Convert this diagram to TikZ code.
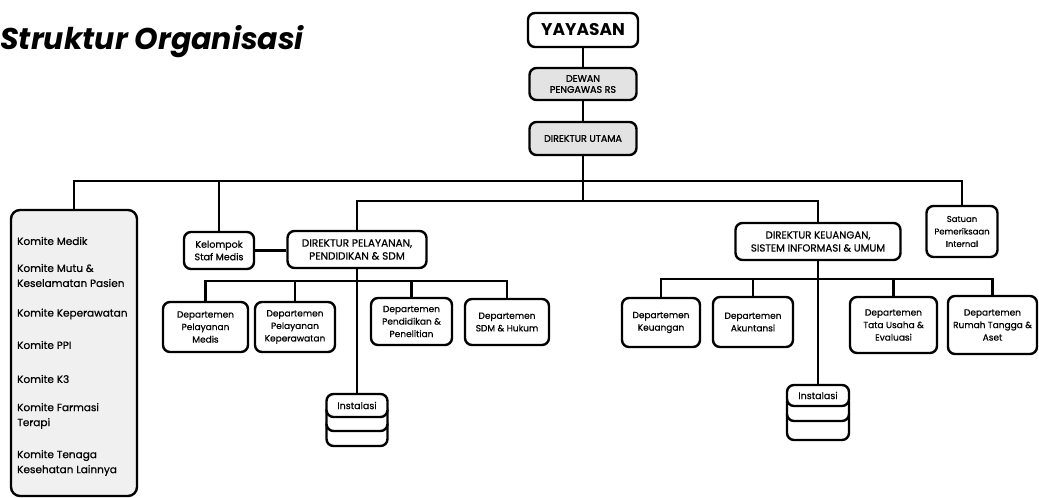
\documentclass[tikz,border=0pt]{standalone}
\usepackage{fontspec}
\setmainfont{Poppins}
\newfontfamily\medfont{Poppins}[FakeBold=0.6]
\newfontfamily\hvyfont{Poppins}[FakeBold=1.4]
\begin{document}
\begin{tikzpicture}[x=1pt,y=-1pt,
  box/.style={draw, line width=2.4pt, rounded corners=7pt, fill=white, align=center, inner sep=1pt,
    font=\medfont\fontsize{9}{12.5}\selectfont},
  grbox/.style={box, fill=gray!22},
  conn/.style={line width=2.4pt},
  kt/.style={anchor=west, align=left, inner sep=0pt, font=\medfont\fontsize{10.5}{15}\selectfont}]
\useasboundingbox (0,0) rectangle (1039,498);
% title
\node[anchor=base west, inner sep=0pt, font=\fontsize{30}{32}\selectfont\bfseries\itshape] (title) at (0,49) {Struktur Organisasi};
% top chain
\node[box, minimum width=110, minimum height=34, font=\fontsize{17}{19}\selectfont\bfseries] (yay) at (583,30) {YAYASAN};
\node[grbox, minimum width=107, minimum height=32, font=\hvyfont\fontsize{9.5}{11}\selectfont] (dewan) at (583,84) {DEWAN\\PENGAWAS RS};
\node[grbox, minimum width=107, minimum height=33, font=\hvyfont\fontsize{9.5}{11}\selectfont] (dirut) at (583,138.5) {DIREKTUR UTAMA};
% komite
\node[draw, line width=2.4pt, rounded corners=9pt, fill=gray!12, minimum width=126, minimum height=286] (komite) at (74,353) {};
\node[kt] (k1) at (17,241) {Komite Medik};
\node[kt] (k2) at (17,275.5) {Komite Mutu \&\\Keselamatan Pasien};
\node[kt] (k3) at (17,314) {Komite Keperawatan};
\node[kt] (k4) at (17,345) {Komite PPI};
\node[kt] (k5) at (17,379) {Komite K3};
\node[kt] (k6) at (17,416) {Komite Farmasi\\Terapi};
\node[kt] (k7) at (17,463) {Komite Tenaga\\Kesehatan Lainnya};
% second level
\node[box, minimum width=70, minimum height=37, font=\medfont\fontsize{9.5}{12.5}\selectfont] (kel) at (219,250.5) {Kelompok\\Staf Medis};
\node[box, minimum width=139, minimum height=37, font=\medfont\fontsize{10.5}{13}\selectfont] (dirpel) at (357,249.5) {DIREKTUR PELAYANAN,\\PENDIDIKAN \& SDM};
\node[box, minimum width=165, minimum height=37, font=\medfont\fontsize{10.2}{13}\selectfont] (dirkeu) at (818,241.5) {DIREKTUR KEUANGAN,\\SISTEM INFORMASI \& UMUM};
\node[box, minimum width=71, minimum height=51, font=\medfont\fontsize{8.5}{12.5}\selectfont] (sat) at (962,231.5) {Satuan\\Pemeriksaan\\Internal};
% departments
\node[box, minimum width=85, minimum height=50] (d1) at (205.5,327) {Departemen\\Pelayanan\\Medis};
\node[box, minimum width=80, minimum height=50] (d2) at (295,327) {Departemen\\Pelayanan\\Keperawatan};
\node[box, minimum width=81, minimum height=47] (d3) at (411.5,321.5) {Departemen\\Pendidikan \&\\Penelitian};
\node[box, minimum width=84, minimum height=46] (d4) at (507,322) {Departemen\\SDM \& Hukum};
\node[box, minimum width=78, minimum height=49] (d5) at (661,322.5) {Departemen\\Keuangan};
\node[box, minimum width=80, minimum height=50] (d6) at (753,322) {Departemen\\Akuntansi};
\node[box, minimum width=87, minimum height=56] (d7) at (893.5,325) {Departemen\\Tata Usaha \&\\Evaluasi};
\node[box, minimum width=89, minimum height=58] (d8) at (992.5,325) {Departemen\\Rumah Tangga \&\\Aset};
% instalasi stacks
\node[box, minimum width=61, minimum height=28] (il3) at (357,432) {};
\node[box, minimum width=61, minimum height=27] (il2) at (357,417.5) {};
\node[box, minimum width=61, minimum height=23, font=\medfont\fontsize{9.5}{10}\selectfont] (il) at (357,405.5) {Instalasi};
\node[box, minimum width=62, minimum height=32] (ir3) at (818,424) {};
\node[box, minimum width=62, minimum height=26] (ir2) at (818,408) {};
\node[box, minimum width=62, minimum height=21, font=\medfont\fontsize{9.5}{10}\selectfont] (ir) at (818,395.5) {Instalasi};
% bus coordinates
\coordinate (b1) at (583,181);
\coordinate (b2) at (583,201);
\coordinate (lb) at (357,281);
\coordinate (rb) at (818,279);
% connectors
\draw[conn] (yay) -- (dewan);
\draw[conn] (dewan) -- (dirut);
\draw[conn] (dirut.south) -- (b2);
\draw[conn] (komite.north) |- (b1) -| (sat.north);
\draw[conn] (kel.north) -- (kel.north |- b1);
\draw[conn] (dirpel.north) |- (b2) -| (dirkeu.north);
\draw[conn] (kel.east) -- (kel.east -| dirpel.west);
\draw[conn] (d1.north) |- (lb) -| (d4.north);
\draw[conn] (d2.north) -- (d2.north |- lb);
\draw[conn] (d3.north) -- (d3.north |- lb);
\draw[conn] (dirpel.south) -- (il.north);
\draw[conn] (d5.north) |- (rb) -| (d8.north);
\draw[conn] (d6.north) -- (d6.north |- rb);
\draw[conn] (d7.north) -- (d7.north |- rb);
\draw[conn] (dirkeu.south) -- (ir.north);
\end{tikzpicture}
\end{document}
